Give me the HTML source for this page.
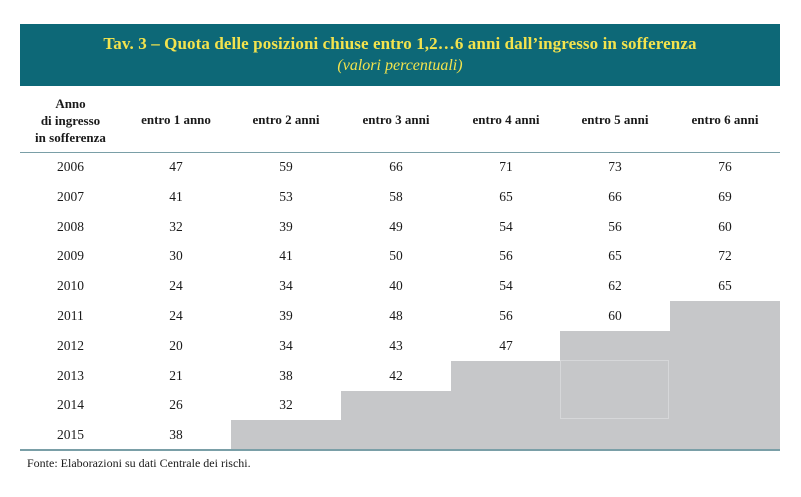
<!DOCTYPE html>
<html><head><style>
body{margin:0;width:801px;height:497px;background:#fff;position:relative;font-family:"Liberation Serif",serif;color:#1a1a1a;overflow:hidden}
.a{position:absolute}
.t{position:absolute;text-align:center;font-size:13.5px;line-height:16px}
.g{position:absolute;background:#c6c7c9}
</style></head><body>
<div class="a" style="left:20px;top:24px;width:760px;height:62px;background:#0d6877"></div>
<div class="a" style="left:20px;top:34px;width:760px;text-align:center;color:#f3e34d;font-weight:bold;font-size:17px;letter-spacing:0.1px">Tav. 3 – Quota delle posizioni chiuse entro 1,2…6 anni dall’ingresso in sofferenza</div>
<div class="a" style="left:20px;top:57px;width:760px;text-align:center;color:#f3e34d;font-style:italic;font-size:16px">(valori percentuali)</div>
<div class="t" style="left:20px;top:95px;width:101px;font-weight:bold;font-size:13px;line-height:17px">Anno<br>di ingresso<br>in sofferenza</div>
<div class="a" style="left:20px;top:152px;width:760px;height:1px;background:#7a9fa7"></div>
<div class="g" style="left:670px;top:301px;width:110px;height:149px"></div>
<div class="g" style="left:560px;top:331px;width:110px;height:119px"></div>
<div class="g" style="left:451px;top:361px;width:109px;height:89px"></div>
<div class="g" style="left:341px;top:391px;width:110px;height:59px"></div>
<div class="g" style="left:231px;top:420px;width:110px;height:30px"></div>
<div class="a" style="left:560px;top:360px;width:109px;height:59px;border:1px solid #d6d7d9;box-sizing:border-box"></div>
<div class="a" style="left:20px;top:449px;width:760px;height:2px;background:#7a9fa7"></div>
<div class="a" style="left:27px;top:456px;font-size:12px">Fonte: Elaborazioni su dati Centrale dei rischi.</div>
<div id="c"></div>
<script>
var h=["entro 1 anno","entro 2 anni","entro 3 anni","entro 4 anni","entro 5 anni","entro 6 anni"];
var x=[121,231,341,451,560,670];
var s="";
h.forEach(function(t,i){s+='<div class="t" style="left:'+x[i]+'px;top:112px;width:110px;font-weight:bold;font-size:13px">'+t+'</div>';});
var d=[[2006,47,59,66,71,73,76],[2007,41,53,58,65,66,69],[2008,32,39,49,54,56,60],[2009,30,41,50,56,65,72],[2010,24,34,40,54,62,65],[2011,24,39,48,56,60],[2012,20,34,43,47],[2013,21,38,42],[2014,26,32],[2015,38]];
d.forEach(function(r,j){var y=159+j*29.8;
s+='<div class="t" style="left:20px;top:'+y+'px;width:101px">'+r[0]+'</div>';
for(var i=1;i<r.length;i++)s+='<div class="t" style="left:'+x[i-1]+'px;top:'+y+'px;width:110px">'+r[i]+'</div>';});
document.getElementById("c").innerHTML=s;
</script>
</body></html>
